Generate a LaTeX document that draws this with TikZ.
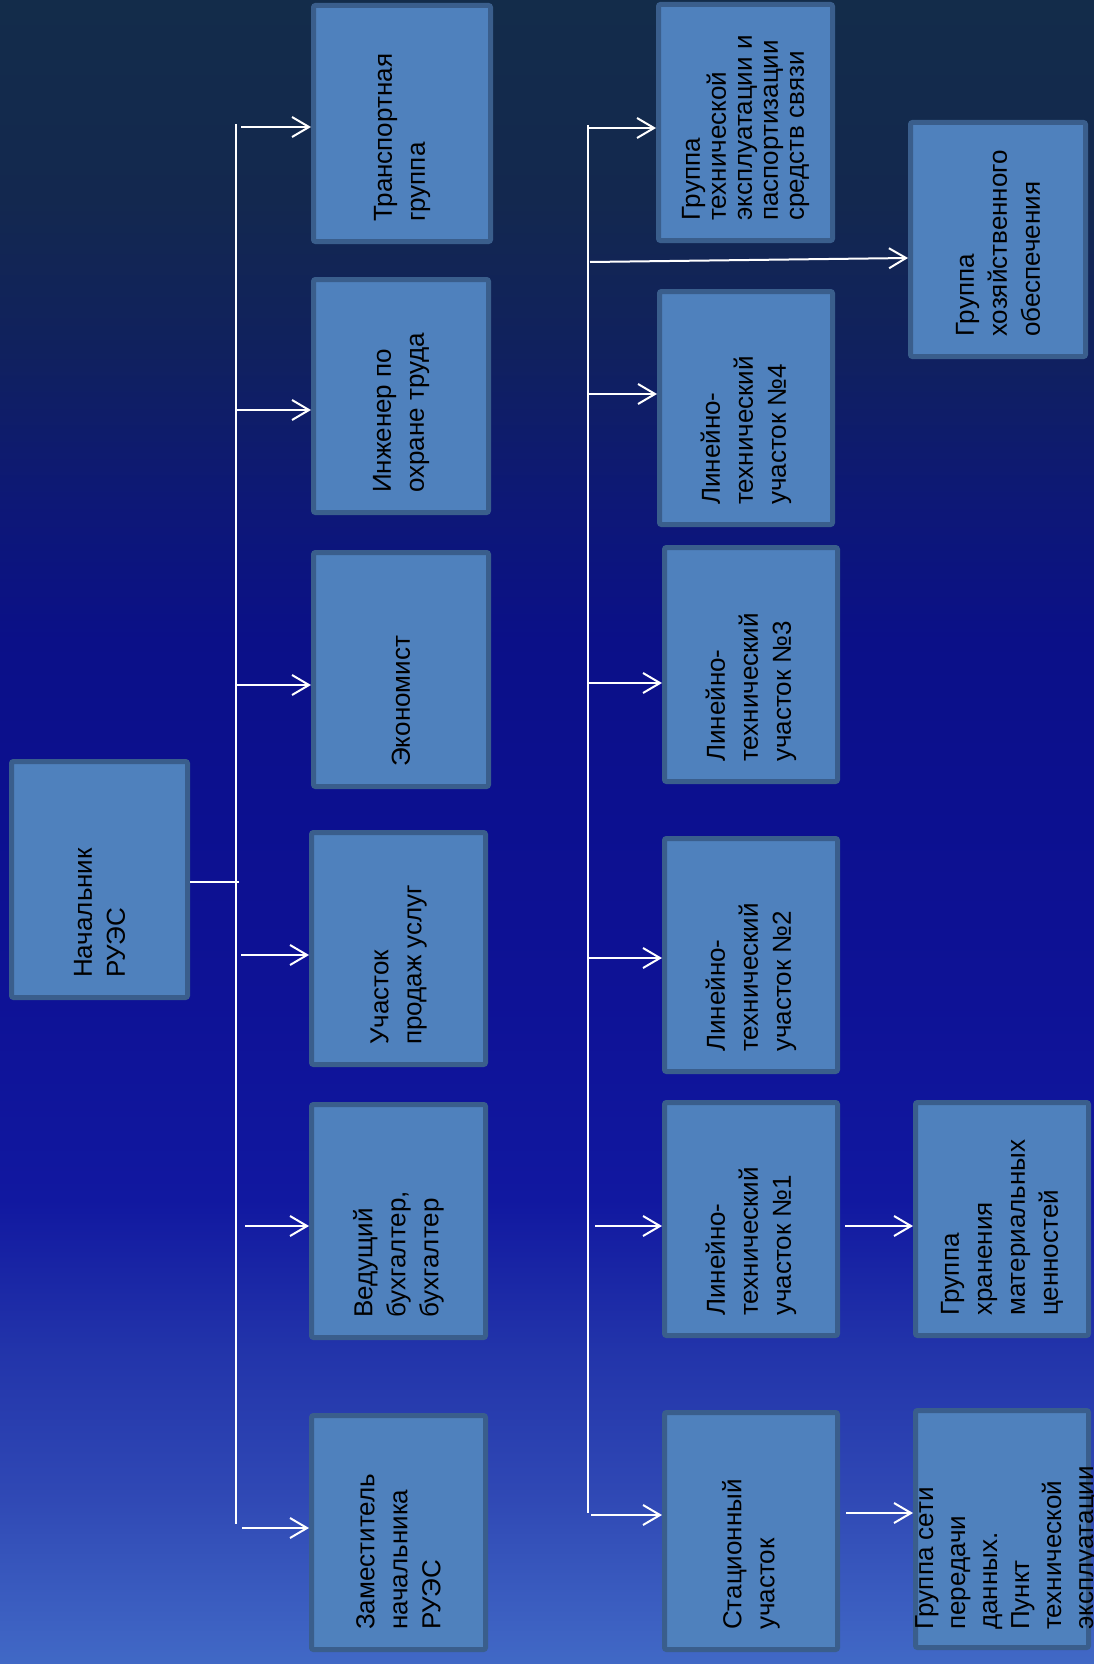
\documentclass[tikz,border=0pt]{standalone}
\usepackage{fontspec}
\setmainfont{Liberation Sans}
\usetikzlibrary{arrows.meta}
\definecolor{bgA}{HTML}{4169C6}
\definecolor{bgB}{HTML}{3049B5}
\definecolor{bgC}{HTML}{2234AA}
\definecolor{bgD}{HTML}{1118A0}
\definecolor{bgE}{HTML}{0E1296}
\definecolor{bgF}{HTML}{0C108F}
\definecolor{bgG}{HTML}{0B1088}
\definecolor{bgH}{HTML}{0D1876}
\definecolor{bgI}{HTML}{10215E}
\definecolor{bgJ}{HTML}{13284F}
\definecolor{bgK}{HTML}{132C4A}
\definecolor{boxfill}{HTML}{4F81BD}
\definecolor{boxborder}{HTML}{3A5E8C}
\pgfdeclareverticalshading{bgshade}{100bp}{color(0bp)=(bgA); color(25bp)=(bgA); color(29.93bp)=(bgB); color(34.43bp)=(bgC); color(38.94bp)=(bgD); color(44.95bp)=(bgE); color(50.96bp)=(bgF); color(55.77bp)=(bgG); color(59.98bp)=(bgH); color(64.48bp)=(bgI); color(68.99bp)=(bgJ); color(75bp)=(bgK); color(100bp)=(bgK)}
\tikzset{
  box/.style={draw=boxborder, fill=boxfill, line width=5pt, rounded corners=2pt, inner sep=0pt},
  txt/.style={rotate=90, anchor=west, align=left, inner sep=0pt, text=black, font=\fontsize{26}{33}\selectfont},
  ln/.style={draw=white, line width=2pt},
  arr/.style={draw=white, line width=2pt, -{Straight Barb[length=17pt,width=20pt]}}
}
\begin{document}
\begin{tikzpicture}[x=1pt,y=-1pt]
\useasboundingbox (0,0) rectangle (1094,1664);
\shade[shading=bgshade] (0,0) rectangle (1094,1664);

% boxes
\node[box, minimum width=176pt, minimum height=236pt] (N)  at (99.5,879.5) {};
\node[box, minimum width=177pt, minimum height=236pt] (A1) at (402,123.5) {};
\node[box, minimum width=175pt, minimum height=233pt] (A2) at (401,396) {};
\node[box, minimum width=175pt, minimum height=234pt] (A3) at (401,669.5) {};
\node[box, minimum width=174pt, minimum height=232pt] (A4) at (398.5,948.5) {};
\node[box, minimum width=174pt, minimum height=233pt] (A5) at (398.5,1221) {};
\node[box, minimum width=174pt, minimum height=234pt] (A6) at (398.5,1532.5) {};
\node[box, minimum width=174pt, minimum height=236pt] (B1) at (745.5,122.5) {};
\node[box, minimum width=173pt, minimum height=233pt] (B2) at (746,408) {};
\node[box, minimum width=173pt, minimum height=234pt] (B3) at (751,664.5) {};
\node[box, minimum width=173pt, minimum height=233pt] (B4) at (751,955) {};
\node[box, minimum width=173pt, minimum height=233pt] (B5) at (751,1219) {};
\node[box, minimum width=173pt, minimum height=237pt] (B6) at (751,1531) {};
\node[box, minimum width=175pt, minimum height=234pt] (C1) at (998,239.5) {};
\node[box, minimum width=173pt, minimum height=233pt] (C2) at (1002,1219) {};
\node[box, minimum width=173pt, minimum height=237pt] (C3) at (1002,1529) {};

% texts
\node[txt] (Nt)  at ([yshift=22pt]N.south)  {Начальник\\РУЭС};
\node[txt] (A1t) at ([yshift=22pt]A1.south) {Транспортная\\группа};
\node[txt] (A2t) at ([yshift=22pt]A2.south) {Инженер по\\охране труда};
\node[txt] (A3t) at ([yshift=22pt]A3.south) {Экономист};
\node[txt] (A4t) at ([yshift=22pt]A4.south) {Участок\\продаж услуг};
\node[txt] (A5t) at ([yshift=22pt]A5.south) {Ведущий\\бухгалтер,\\бухгалтер};
\node[txt] (A6t) at ([yshift=22pt]A6.south) {Заместитель\\начальника\\РУЭС};
\node[txt, font=\fontsize{26}{26}\selectfont] (B1t) at ([yshift=22pt]B1.south) {Группа\\технической\\эксплуатации и\\паспортизации\\средств связи};
\node[txt] (B2t) at ([yshift=22pt]B2.south) {Линейно-\\технический\\участок №4};
\node[txt] (B3t) at ([yshift=22pt]B3.south) {Линейно-\\технический\\участок №3};
\node[txt] (B4t) at ([yshift=22pt]B4.south) {Линейно-\\технический\\участок №2};
\node[txt] (B5t) at ([yshift=22pt]B5.south) {Линейно-\\технический\\участок №1};
\node[txt] (B6t) at ([yshift=22pt]B6.south) {Стационный\\участок};
\node[txt] (C1t) at ([yshift=22pt]C1.south) {Группа\\хозяйственного\\обеспечения};
\node[txt] (C2t) at ([yshift=22pt]C2.south) {Группа\\хранения\\материальных\\ценностей};
\node[txt, anchor=north west, font=\fontsize{26}{32}\selectfont] (C3t) at (915,1630) {Группа сети\\передачи\\данных.\\Пункт\\технической\\эксплуатации};

% left trunk
\coordinate (TA) at (236,124);
\coordinate (TAe) at (236,1524);
\draw[ln] (TA) -- (TAe);
\coordinate (n1) at (239,882);
\draw[ln] (N.east |- n1) -- (n1);
\coordinate (a1) at (241,127);
\coordinate (a2) at (236,410);
\coordinate (a3) at (236,685);
\coordinate (a4) at (241,955);
\coordinate (a5) at (245,1226);
\coordinate (a6) at (242,1528);
\draw[arr] (a1) -- (a1 -| A1.west);
\draw[arr] (a2) -- (a2 -| A2.west);
\draw[arr] (a3) -- (a3 -| A3.west);
\draw[arr] (a4) -- (a4 -| A4.west);
\draw[arr] (a5) -- (a5 -| A5.west);
\draw[arr] (a6) -- (a6 -| A6.west);

% right trunk
\coordinate (TB) at (588,125);
\coordinate (TBe) at (588,1513);
\draw[ln] (TB) -- (TBe);
\coordinate (b1) at (588,128);
\coordinate (bh) at (590,262);
\coordinate (b2) at (588,394);
\coordinate (b3) at (588,683);
\coordinate (b4) at (588,958);
\coordinate (b5) at (595,1226);
\coordinate (b6) at (591,1515);
\draw[arr] (b1) -- (b1 -| B1.west);
\draw[arr] (bh) -- ([yshift=4pt]bh -| C1.west);
\draw[arr] (b2) -- (b2 -| B2.west);
\draw[arr] (b3) -- (b3 -| B3.west);
\draw[arr] (b4) -- (b4 -| B4.west);
\draw[arr] (b5) -- (b5 -| B5.west);
\draw[arr] (b6) -- (b6 -| B6.west);

% third column
\coordinate (c2) at (845,1226);
\coordinate (c3) at (846,1513);
\draw[arr] (c2) -- (c2 -| C2.west);
\draw[arr] (c3) -- (c3 -| C3.west);
\end{tikzpicture}
\end{document}
